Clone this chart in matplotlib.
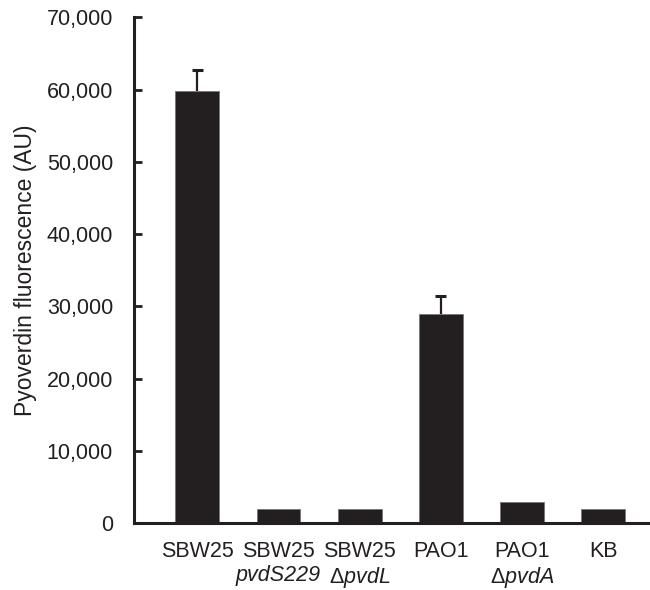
import numpy as np
import matplotlib
matplotlib.use("Agg")
import matplotlib.pyplot as plt
from matplotlib.transforms import blended_transform_factory

plt.rcParams['font.family'] = ['Liberation Sans', 'DejaVu Sans']
plt.rcParams['mathtext.fontset'] = 'custom'
plt.rcParams['mathtext.rm'] = 'Liberation Sans'
plt.rcParams['mathtext.it'] = 'Liberation Sans:italic'

strains = ['SBW25', 'SBW25', 'SBW25', 'PAO1', 'PAO1', 'KB']
variants = ['', 'pvdS229', r'$\Delta\mathit{pvdL}$', '', r'$\Delta\mathit{pvdA}$', '']
fluor = [59800, 2000, 2000, 28950, 2900, 2000]
err_up = [2850, 0, 0, 2500, 0, 0]
yticks = [0, 10000, 20000, 30000, 40000, 50000, 60000, 70000]

fs = 15.5
dark = '#231f20'

fig = plt.figure(figsize=(6.5, 5.9), dpi=100)
ax = fig.add_axes([0.206, 0.1136, 0.791, 0.857])

x = np.arange(len(strains))
ax.bar(x, fluor, width=0.54, color=dark, edgecolor='#777777', linewidth=0.6, zorder=2)
# upper error bars only
for i in range(len(x)):
    if err_up[i] > 0:
        top = fluor[i] + err_up[i]
        ax.vlines(x[i], fluor[i], top, color=dark, linewidth=1.6, zorder=1)
        ax.hlines(top, x[i] - 0.068, x[i] + 0.068, color=dark, linewidth=2.2, zorder=1)

ax.set_xlim(-0.78, 5.55)
ax.set_ylim(0, 70000)
ax.set_yticks(yticks)
ax.set_yticklabels([f'{v:,}' for v in yticks])
ax.tick_params(axis='y', direction='in', length=6, width=2, pad=15, labelsize=fs, colors=dark)
ax.tick_params(axis='x', bottom=False, labelbottom=False)
for s in ['top', 'right']:
    ax.spines[s].set_visible(False)
for s in ['left', 'bottom']:
    ax.spines[s].set_linewidth(2.2)
    ax.spines[s].set_color(dark)

tr = blended_transform_factory(ax.transData, ax.transAxes)
for i in range(len(strains)):
    ax.text(x[i], -0.035, strains[i], transform=tr, ha='center', va='top', fontsize=fs, color=dark)
    if variants[i]:
        ax.text(x[i], -0.084, variants[i], transform=tr, ha='center', va='top', fontsize=fs,
                color=dark, style='italic')

ax.set_ylabel('Pyoverdin fluorescence (AU)', fontsize=16.5, color=dark, labelpad=7)

fig.savefig('out.png', dpi=100)
